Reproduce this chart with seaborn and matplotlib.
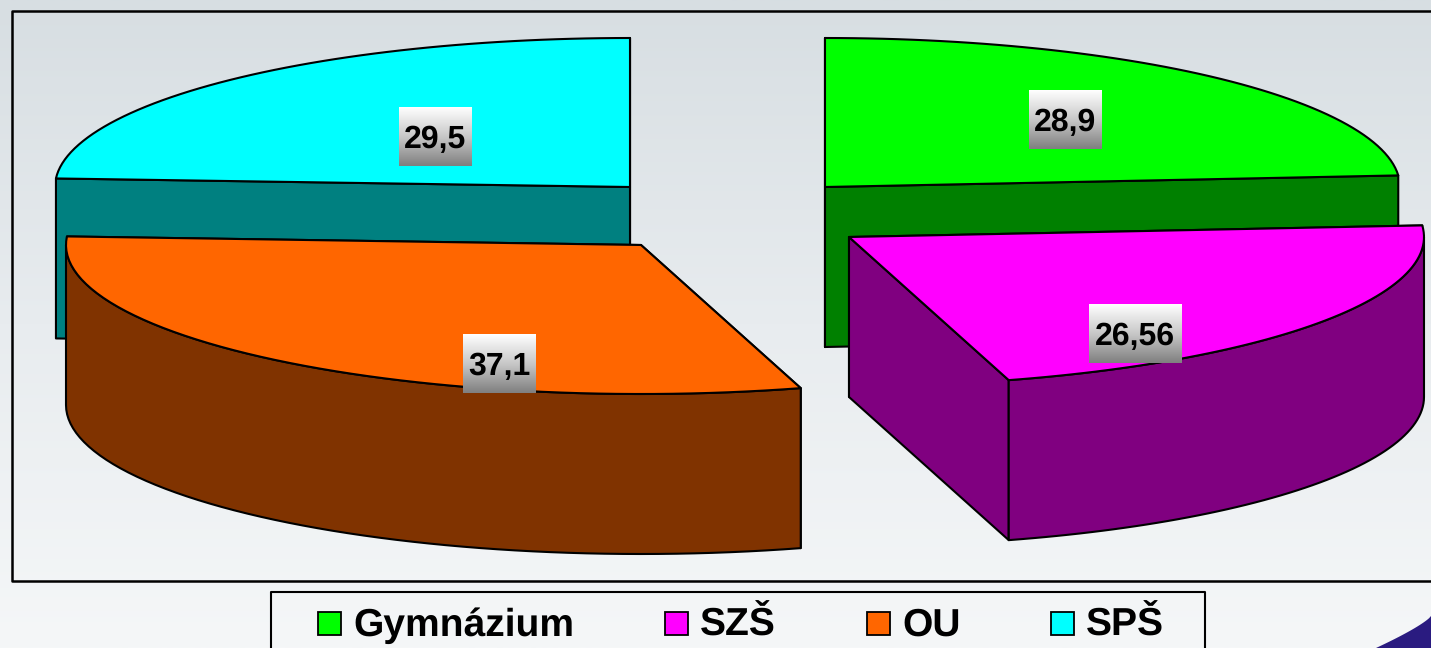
import numpy as np
import seaborn as sns
import matplotlib.pyplot as plt
from matplotlib.patches import Polygon, Rectangle

# data
categories = ["Gymnázium", "SZŠ", "OU", "SPŠ"]
values = [28.9, 26.56, 37.1, 29.5]
value_labels = ["28,9", "26,56", "37,1", "29,5"]

# look of the pie
top_colors = ["#00FF00", "#FF00FF", "#FF6600", "#00FFFF"]
side_colors = ["#008000", "#800080", "#803300", "#008080"]
apexes = [(825, 187), (849, 237), (641, 245), (630, 187)]
label_pos = [(1065, 120), (1135, 334), (499, 364), (435, 137)]
legend_box_x = [318, 665, 867, 1051]
draw_order = [3, 0, 2, 1]
rx, ry, depth = 575, 149, 160

sns.set_theme(style="white")
plt.rcParams["font.family"] = ["Liberation Sans", "DejaVu Sans"]
plt.rcParams["text.hinting"] = "no_hinting"
plt.rcParams["text.hinting_factor"] = 1

W, H = 1431, 648
fig = plt.figure(figsize=(W / 100, H / 100), dpi=100)
ax = fig.add_axes([0, 0, 1, 1])
ax.set_xlim(0, W)
ax.set_ylim(H, 0)
ax.axis("off")

# page background
bg_cmap = sns.blend_palette(["#d7dee2", "#e8ecef", "#f5f7f8"], as_cmap=True)
grad = np.linspace(0, 1, 256).reshape(-1, 1)
ax.imshow(grad, cmap=bg_cmap, extent=[0, W, H, 0], aspect="auto", zorder=0)
ax.set_xlim(0, W)
ax.set_ylim(H, 0)

# chart frame (open on the right, it runs off the slide)
ax.plot([W + 5, 11.5, 11.5, W + 5], [10.5, 10.5, 580.5, 580.5], color="black", lw=1.8, zorder=1)


def arc(cx, cy, a0, a1, drop=0, n=60):
    t = np.radians(np.linspace(a0, a1, n))
    return np.column_stack([cx + rx * np.sin(t), cy - ry * np.cos(t) + drop])


def face(pts, color, z):
    ax.add_patch(Polygon(pts, closed=True, facecolor=color, edgecolor="black",
                         lw=1.5, joinstyle="round", zorder=z))


edges = np.concatenate([[0], np.cumsum(values)]) / sum(values) * 360
edges[1:-1] += 0.3
z = 2
for i in draw_order:
    cx, cy = apexes[i]
    a0, a1 = edges[i], edges[i + 1]
    apex = np.array([cx, cy])
    # the two cut faces, the one further back first
    rims = sorted([a0, a1], key=lambda a: cy - ry * np.cos(np.radians(a)))
    for a in rims:
        rim = arc(cx, cy, a, a, n=1)[0]
        quad = [apex, rim, rim + [0, depth], apex + [0, depth]]
        face(quad, side_colors[i], z)
        z += 1
    # outer wall, only the part that faces the viewer
    w0, w1 = max(a0, 90), min(a1, 270)
    if w1 > w0:
        upper = arc(cx, cy, w0, w1)
        lower = arc(cx, cy, w0, w1, drop=depth)[::-1]
        face(np.vstack([upper, lower]), side_colors[i], z)
        z += 1
    top = np.vstack([apex, arc(cx, cy, a0, a1)])
    face(top, top_colors[i], z)
    z += 1

# value labels, grey gradient behind the text
label_cmap = sns.blend_palette(["#ffffff", "#c8c8c8", "#7f7f7f"], as_cmap=True)
for (x, y), txt in zip(label_pos, value_labels):
    half_w = 46.5 if len(txt) > 4 else 36.5
    ax.imshow(grad, cmap=label_cmap, extent=[x - half_w, x + half_w, y + 29.5, y - 29.5],
              aspect="auto", zorder=50)
    ax.text(x, y + 3, txt, ha="center", va="center", fontsize=22.8,
            fontweight="bold", color="black", zorder=51)
ax.set_xlim(0, W)
ax.set_ylim(H, 0)

# legend box, cut off by the bottom of the slide
ax.plot([270.5, 270.5, 1204.5, 1204.5], [H + 5, 592, 592, H + 5], color="black", lw=1.5, zorder=60)
for x, name, col in zip(legend_box_x, categories, top_colors):
    ax.add_patch(Rectangle((x, 612), 23, 23, facecolor=col, edgecolor="black", lw=1.3, zorder=61))
    ax.text(x + 35, 625.5, name, ha="left", va="center", fontsize=27.8,
            fontweight="bold", color="black", zorder=61)

# corner of the slide logo
t = np.linspace(0, 1, 30)
curve_x = 1431 - 55 * t
curve_y = 616 + 32 * t ** 0.8
ax.add_patch(Polygon(np.column_stack([np.r_[curve_x, 1431], np.r_[curve_y, 648]]),
                     closed=True, facecolor="#2a1b80", edgecolor="none", zorder=1))

sns.despine(ax=ax, left=True, bottom=True)
fig.savefig("out.png", dpi=100)
